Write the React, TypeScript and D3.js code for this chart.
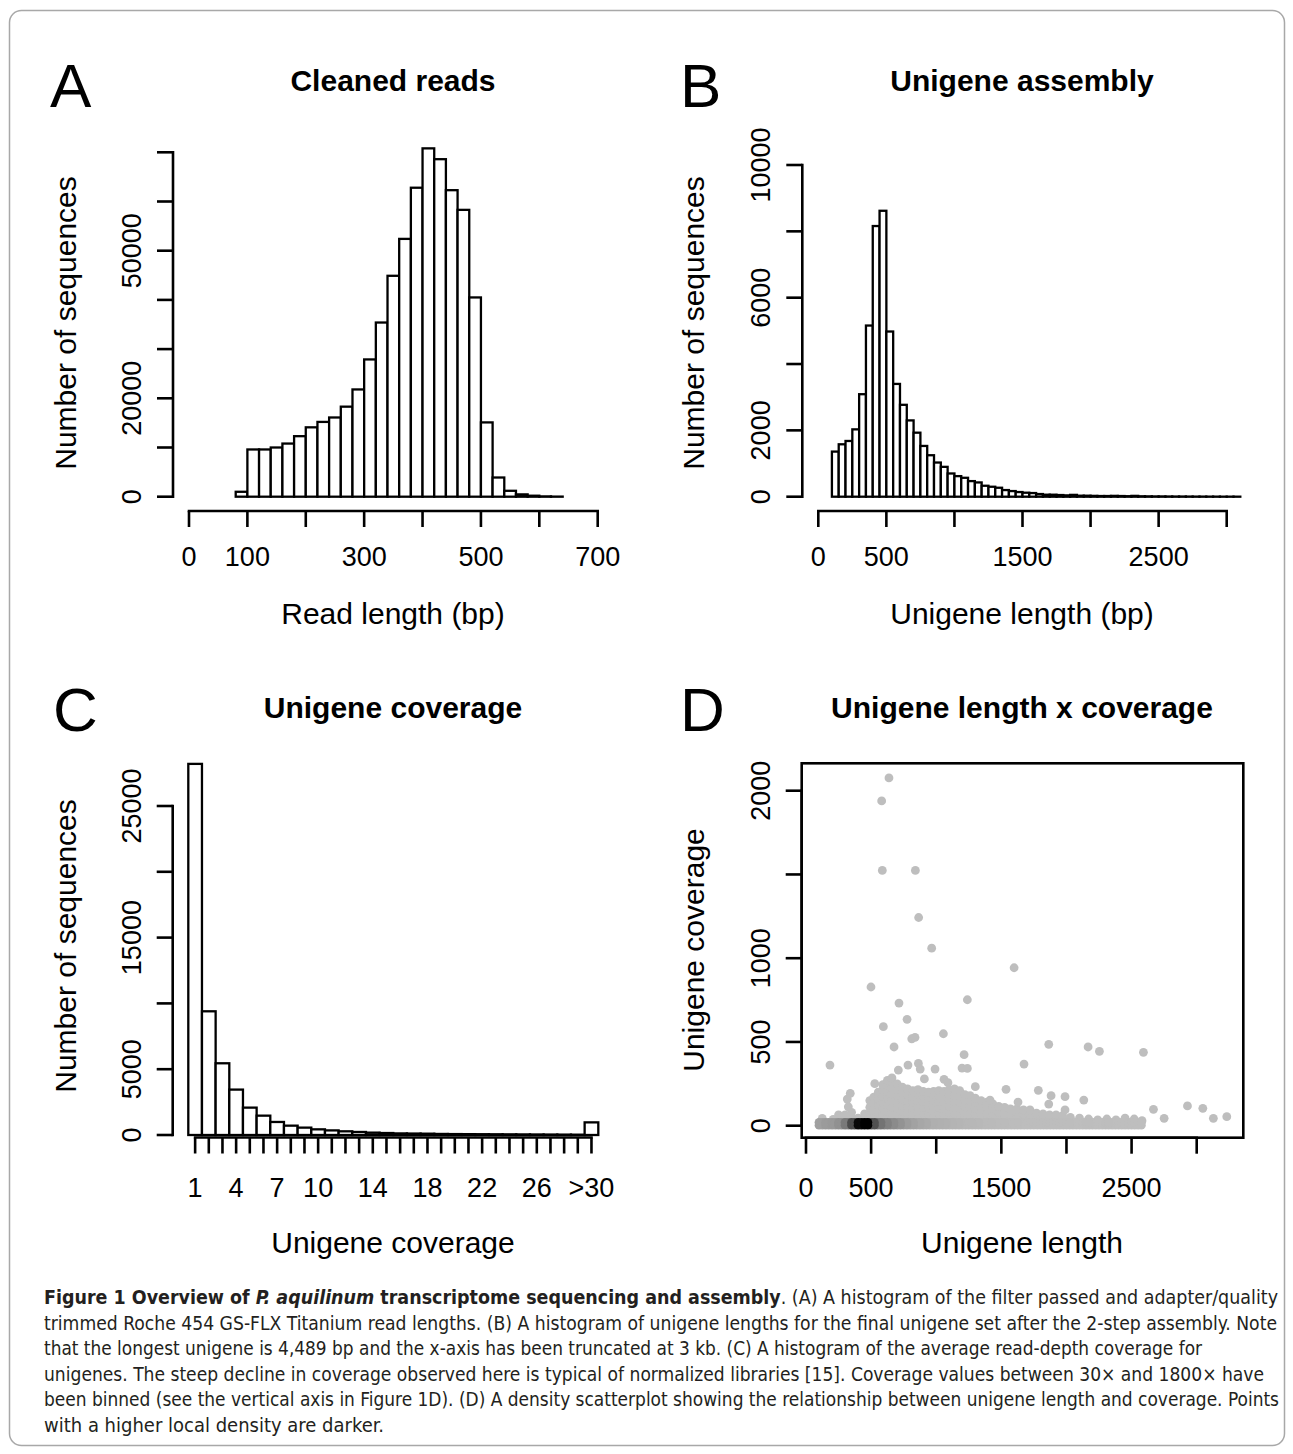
import React from 'react';
import * as d3 from 'd3';

// ---------------- Panel A: cleaned read lengths (bins of 20 bp) ----------------
const readBinStarts = [60, 80, 100, 120, 140, 160, 180, 200, 220, 240, 260, 280, 300, 320, 340, 360, 380, 400, 420, 440, 460, 480, 500, 520, 540, 560, 580, 600, 620];
const readCounts = [0, 1000, 9600, 9600, 10000, 10800, 12300, 14100, 15200, 16100, 18300, 21800, 27900, 35400, 44900, 52400, 62800, 70800, 68600, 62300, 58300, 40500, 15100, 3900, 1200, 470, 200, 60, 20];
const readBinWidth = 20;
const readTicksX = [0, 100, 200, 300, 400, 500, 600, 700];
const readLabelsX = ['0', '100', '', '300', '', '500', '', '700'];
const readTicksY = [0, 10000, 20000, 30000, 40000, 50000, 60000, 70000];
const readLabelsY = ['0', '', '20000', '', '', '50000', '', ''];

// ---------------- Panel B: unigene lengths (bins of 50 bp) ----------------
const uniBinStarts = [50, 100, 150, 200, 250, 300, 350, 400, 450, 500, 550, 600, 650, 700, 750, 800, 850, 900, 950, 1000, 1050, 1100, 1150, 1200, 1250, 1300, 1350, 1400, 1450, 1500, 1550, 1600, 1650, 1700, 1750, 1800, 1850, 1900, 1950, 2000, 2050, 2100, 2150, 2200, 2250, 2300, 2350, 2400, 2450, 2500, 2550, 2600, 2650, 2700, 2750, 2800, 2850, 2900, 2950, 3000, 3050];
const uniCounts = [0, 1360, 1580, 1680, 2030, 3090, 5160, 8160, 8620, 4980, 3400, 2770, 2300, 1930, 1530, 1250, 1030, 900, 700, 620, 570, 470, 430, 330, 300, 270, 200, 170, 140, 120, 110, 80, 60, 60, 50, 40, 55, 30, 30, 25, 20, 20, 25, 20, 15, 25, 12, 10, 8, 8, 6, 5, 5, 4, 3, 3, 2, 2, 1, 1, 1];
const uniBinWidth = 50;
const uniTicksX = [0, 500, 1000, 1500, 2000, 2500, 3000];
const uniLabelsX = ['0', '500', '', '1500', '', '2500', ''];
const uniTicksY = [0, 2000, 4000, 6000, 8000, 10000];
const uniLabelsY = ['0', '2000', '', '6000', '', '10000'];

// ---------------- Panel C: unigene coverage ----------------
const covCategories = ['1', '2', '3', '4', '5', '6', '7', '8', '9', '10', '11', '12', '13', '14', '15', '16', '17', '18', '19', '20', '21', '22', '23', '24', '25', '26', '27', '28', '29', '>30'];
const covCounts = [28200, 9400, 5450, 3450, 2080, 1470, 990, 710, 560, 430, 350, 280, 230, 180, 150, 120, 110, 100, 80, 70, 65, 60, 55, 50, 45, 40, 35, 30, 25, 960];
const covLabelled = ['1', '4', '7', '10', '14', '18', '22', '26', '>30'];
const covTicksY = [0, 5000, 10000, 15000, 20000, 25000];
const covLabelsY = ['0', '5000', '', '15000', '', '25000'];

// ---------------- Panel D: length x coverage scatter ----------------
const scatterOutliers: [number, number][] = [
  [637, 2076], [581, 1939], [586, 1524], [840, 1524], [865, 1243], [965, 1060], [1598, 943],
  [499, 828], [714, 732], [1239, 752], [776, 635], [594, 591], [812, 519], [837, 527], [1055, 549],
  [676, 470], [1864, 486], [2166, 470], [2253, 444], [2591, 438], [1214, 424], [184, 362],
  [1674, 368], [783, 362], [863, 372], [1198, 344], [1239, 342], [709, 332], [991, 338], [877, 338],
  [909, 279], [1060, 277], [1090, 257], [528, 251], [1300, 233], [1536, 217], [1784, 211],
  [340, 193], [317, 159], [1989, 173], [1882, 179], [2133, 153], [1628, 141], [1413, 153],
  [2668, 98], [2929, 118], [3047, 104], [2750, 44], [3128, 44], [3231, 54], [1989, 94], [1864, 129],
  [325, 113], [300, 64], [125, 44], [209, 38],
];
// dense cloud: for each length, the coverages of the points
const cloudColumns: [number, number[]][] = [
  [250, [40, 65]], [300, [35]], [350, [50, 80]], [400, [45]], [450, [40, 70]],
  [490, [40, 75, 110, 150]], [520, [50, 90, 130, 170]], [555, [40, 80, 120, 160, 200]],
  [590, [35, 70, 105, 140, 175, 215, 245]], [625, [45, 85, 125, 165, 205, 240, 270]],
  [660, [40, 75, 110, 150, 190, 225, 260, 285]], [700, [35, 70, 105, 145, 180, 215, 250]],
  [740, [45, 85, 120, 160, 195, 230]], [780, [40, 75, 110, 150, 185, 220]],
  [820, [35, 70, 105, 140, 175, 210]], [860, [45, 80, 115, 150, 185, 215]],
  [900, [40, 75, 110, 145, 180, 205]], [940, [35, 70, 105, 140, 170, 200]],
  [980, [45, 80, 115, 150, 185, 205]], [1020, [40, 75, 110, 145, 180, 210]],
  [1060, [35, 70, 105, 140, 175, 205]], [1100, [45, 80, 115, 150, 185, 215]],
  [1140, [40, 75, 110, 145, 180, 220]], [1180, [35, 70, 105, 140, 175, 210]],
  [1220, [45, 80, 115, 150, 185]], [1260, [40, 75, 110, 145, 180]],
  [1300, [35, 70, 105, 140, 165]], [1345, [45, 80, 115, 150]], [1390, [40, 75, 110, 140]],
  [1435, [35, 70, 105, 130]], [1480, [45, 80, 115]], [1525, [40, 75, 110]],
  [1570, [35, 70, 100]], [1620, [45, 80, 100]], [1670, [40, 70, 95]], [1720, [35, 65, 95]],
  [1770, [45, 75]], [1820, [40, 70]], [1870, [35, 65]], [1920, [45, 65]], [1970, [40, 60]],
  [2030, [35, 50]], [2100, [45]], [2170, [40]], [2240, [35]], [2310, [40]], [2380, [35]],
  [2450, [45]], [2520, [40]], [2580, [30]],
];
const bandCoverages = [3, 20];
const bandMaxLength = 2600;
const scatTicksX = [0, 500, 1000, 1500, 2000, 2500, 3000];
const scatLabelsX = ['0', '500', '', '1500', '', '2500', ''];
const scatTicksY = [0, 500, 1000, 1500, 2000];
const scatLabelsY = ['0', '500', '1000', '', '2000'];

// ---------------- Texts ----------------
const titles = ['Cleaned reads', 'Unigene assembly', 'Unigene coverage', 'Unigene length x coverage'];
const xTitles = ['Read length (bp)', 'Unigene length (bp)', 'Unigene coverage', 'Unigene length'];
const yTitles = ['Number of sequences', 'Number of sequences', 'Number of sequences', 'Unigene coverage'];
const letters = ['A', 'B', 'C', 'D'];
const captionLines = [
  'trimmed Roche 454 GS-FLX Titanium read lengths. (B) A histogram of unigene lengths for the final unigene set after the 2-step assembly. Note',
  'that the longest unigene is 4,489 bp and the x-axis has been truncated at 3 kb. (C) A histogram of the average read-depth coverage for',
  'unigenes. The steep decline in coverage observed here is typical of normalized libraries [15]. Coverage values between 30× and 1800× have',
  'been binned (see the vertical axis in Figure 1D). (D) A density scatterplot showing the relationship between unigene length and coverage. Points',
  'with a higher local density are darker.',
];
const captionWidths = [1233, 1158, 1220, 1235, 340];

const FONT = "'Liberation Sans', Arial, Helvetica, sans-serif";
const CAPFONT = "'Liberation Sans Narrow', 'DejaVu Sans Condensed', 'Liberation Sans', sans-serif";
const AX = 2.6;
const TICK = 16;
const TICKFS = 27;
const LABFS = 30;

type Lin = d3.ScaleLinear<number, number>;

function LeftAxis({ scale, ticks, labels, x }: { scale: Lin; ticks: number[]; labels: string[]; x: number }) {
  const ys = ticks.map((t) => scale(t));
  return (
    <g>
      <line x1={x} x2={x} y1={d3.min(ys)} y2={d3.max(ys)} stroke="#000" strokeWidth={AX} strokeLinecap="square" />
      {ticks.map((t, i) => (
        <g key={i}>
          <line x1={x - TICK} x2={x} y1={scale(t)} y2={scale(t)} stroke="#000" strokeWidth={AX} />
          {labels[i] ? (
            <text transform={`translate(${x - 32},${scale(t)}) rotate(-90)`} textAnchor="middle" fontSize={TICKFS} fontFamily={FONT}>
              {labels[i]}
            </text>
          ) : null}
        </g>
      ))}
    </g>
  );
}

function BottomAxis({ positions, labels, y, labelY }: { positions: number[]; labels: string[]; y: number; labelY: number }) {
  return (
    <g>
      <line x1={d3.min(positions)} x2={d3.max(positions)} y1={y} y2={y} stroke="#000" strokeWidth={AX} strokeLinecap="square" />
      {positions.map((p, i) => (
        <g key={i}>
          <line x1={p} x2={p} y1={y} y2={y + TICK} stroke="#000" strokeWidth={AX} />
          {labels[i] ? (
            <text x={p} y={labelY} textAnchor="middle" fontSize={TICKFS} fontFamily={FONT}>
              {labels[i]}
            </text>
          ) : null}
        </g>
      ))}
    </g>
  );
}

function Hist({ starts, counts, width, x, y }: { starts: number[]; counts: number[]; width: number; x: Lin; y: Lin }) {
  return (
    <g>
      {starts.map((s, i) => (
        <rect
          key={i}
          x={x(s)}
          y={y(counts[i])}
          width={x(s + width) - x(s)}
          height={y(0) - y(counts[i])}
          fill="#fff"
          stroke="#000"
          strokeWidth={2.3}
        />
      ))}
    </g>
  );
}

function Labels({ i, cx, titleY, xTitleY, yTitleX, yTitleY, letterX, letterY }: any) {
  return (
    <g fontFamily={FONT}>
      <text x={letterX} y={letterY} fontSize={62}>{letters[i]}</text>
      <text x={cx} y={titleY} textAnchor="middle" fontSize={LABFS} fontWeight="bold">{titles[i]}</text>
      <text x={cx} y={xTitleY} textAnchor="middle" fontSize={LABFS}>{xTitles[i]}</text>
      <text transform={`translate(${yTitleX},${yTitleY}) rotate(-90)`} textAnchor="middle" fontSize={LABFS}>{yTitles[i]}</text>
    </g>
  );
}

export default function App() {
  // Panel A
  const ax = d3.scaleLinear().domain([0, 700]).range([189, 597.7]);
  const ay = d3.scaleLinear().domain([0, 70000]).range([496.7, 152.3]);
  // Panel B
  const bx = d3.scaleLinear().domain([0, 3000]).range([818.3, 1226.7]);
  const by = d3.scaleLinear().domain([0, 10000]).range([496.7, 165]);
  // Panel C
  const cx = d3.scaleBand<string>().domain(covCategories).range([188.3, 598.3]).padding(0);
  const cy = d3.scaleLinear().domain([0, 25000]).range([1135, 806]);
  // Panel D
  const dx = d3.scaleLinear().domain([0, 3000]).range([806, 1196.7]);
  const dy = d3.scaleLinear().domain([0, 2000]).range([1125.7, 790.7]);
  const box = { x0: 801.7, x1: 1243.3, y0: 763.3, y1: 1137.7 };

  const maxUni = d3.max(uniCounts) as number;
  const ramp = d3.interpolateRgb('#BEBEBE', '#000000');
  const bandPts: { l: number; c: number; col: string }[] = [];
  uniBinStarts.forEach((s, i) => {
    if (uniCounts[i] <= 0 || s >= bandMaxLength) return;
    [s, s + uniBinWidth / 2].forEach((l) => {
      bandCoverages.forEach((c) => bandPts.push({ l, c, col: ramp(uniCounts[i] / maxUni) }));
    });
  });
  // draw lightest first, darkest on top
  bandPts.sort((a, b) => d3.ascending(d3.color(b.col)!.rgb().r, d3.color(a.col)!.rgb().r));
  const cloudPts: [number, number][] = [];
  cloudColumns.forEach(([l, cs]) => cs.forEach((c) => cloudPts.push([l, c])));
  const GRAY = '#BEBEBE';
  const R = 4.4;

  return (
    <svg width={1293} height={1454} style={{ position: 'absolute', left: 0, top: 0, background: '#fff' }}>
      <rect x={0} y={0} width={1293} height={1454} fill="#fff" />
      <rect x={9.5} y={10.5} width={1275} height={1435} rx={12} fill="none" stroke="#a8a8a8" strokeWidth={1.5} />

      {/* Panel A */}
      <Hist starts={readBinStarts} counts={readCounts} width={readBinWidth} x={ax} y={ay} />
      <LeftAxis scale={ay} ticks={readTicksY} labels={readLabelsY} x={173} />
      <BottomAxis positions={readTicksX.map((t) => ax(t))} labels={readLabelsX} y={511} labelY={566} />
      <Labels i={0} cx={393} titleY={91} xTitleY={624} yTitleX={76} yTitleY={323} letterX={50} letterY={107} />

      {/* Panel B */}
      <Hist starts={uniBinStarts} counts={uniCounts} width={uniBinWidth} x={bx} y={by} />
      <LeftAxis scale={by} ticks={uniTicksY} labels={uniLabelsY} x={802.3} />
      <BottomAxis positions={uniTicksX.map((t) => bx(t))} labels={uniLabelsX} y={511} labelY={566} />
      <Labels i={1} cx={1022} titleY={91} xTitleY={624} yTitleX={704} yTitleY={323} letterX={680} letterY={107} />

      {/* Panel C */}
      <g>
        {covCategories.map((c, i) => (
          <rect key={c} x={cx(c)} y={cy(covCounts[i])} width={cx.bandwidth()} height={cy(0) - cy(covCounts[i])} fill="#fff" stroke="#000" strokeWidth={2.3} />
        ))}
      </g>
      <LeftAxis scale={cy} ticks={covTicksY} labels={covLabelsY} x={172.7} />
      <BottomAxis
        positions={covCategories.map((c) => (cx(c) as number) + cx.bandwidth() / 2)}
        labels={covCategories.map((c) => (covLabelled.includes(c) ? c : ''))}
        y={1137.5}
        labelY={1197}
      />
      <Labels i={2} cx={393} titleY={718} xTitleY={1253} yTitleX={76} yTitleY={946} letterX={53} letterY={731} />

      {/* Panel D */}
      <g>
        {cloudPts.map(([l, c], i) => (
          <circle key={'c' + i} cx={dx(l)} cy={dy(c)} r={R} fill={GRAY} />
        ))}
        {scatterOutliers.map(([l, c], i) => (
          <circle key={'o' + i} cx={dx(l)} cy={dy(c)} r={R} fill={GRAY} />
        ))}
        {bandPts.map((p, i) => (
          <circle key={'b' + i} cx={dx(p.l)} cy={dy(p.c)} r={R} fill={p.col} />
        ))}
      </g>
      <rect x={box.x0} y={box.y0} width={box.x1 - box.x0} height={box.y1 - box.y0} fill="none" stroke="#000" strokeWidth={AX} />
      <LeftAxis scale={dy} ticks={scatTicksY} labels={scatLabelsY} x={box.x0} />
      <BottomAxis positions={scatTicksX.map((t) => dx(t))} labels={scatLabelsX} y={box.y1} labelY={1197} />
      <Labels i={3} cx={1022} titleY={718} xTitleY={1253} yTitleX={704} yTitleY={950} letterX={680} letterY={731} />

      {/* Caption */}
      <g fontFamily={CAPFONT} fontSize={19} fill="#231f20">
        <text x={44} y={1304} textLength={1234} lengthAdjust="spacingAndGlyphs">
          <tspan fontWeight="bold">Figure 1 Overview of </tspan>
          <tspan fontWeight="bold" fontStyle="italic">P. aquilinum</tspan>
          <tspan fontWeight="bold"> transcriptome sequencing and assembly</tspan>
          <tspan>. (A) A histogram of the filter passed and adapter/quality</tspan>
        </text>
        {captionLines.map((t, i) => (
          <text key={i} x={44} y={1329.5 + i * 25.5} textLength={captionWidths[i]} lengthAdjust="spacingAndGlyphs">
            {t}
          </text>
        ))}
      </g>
    </svg>
  );
}
